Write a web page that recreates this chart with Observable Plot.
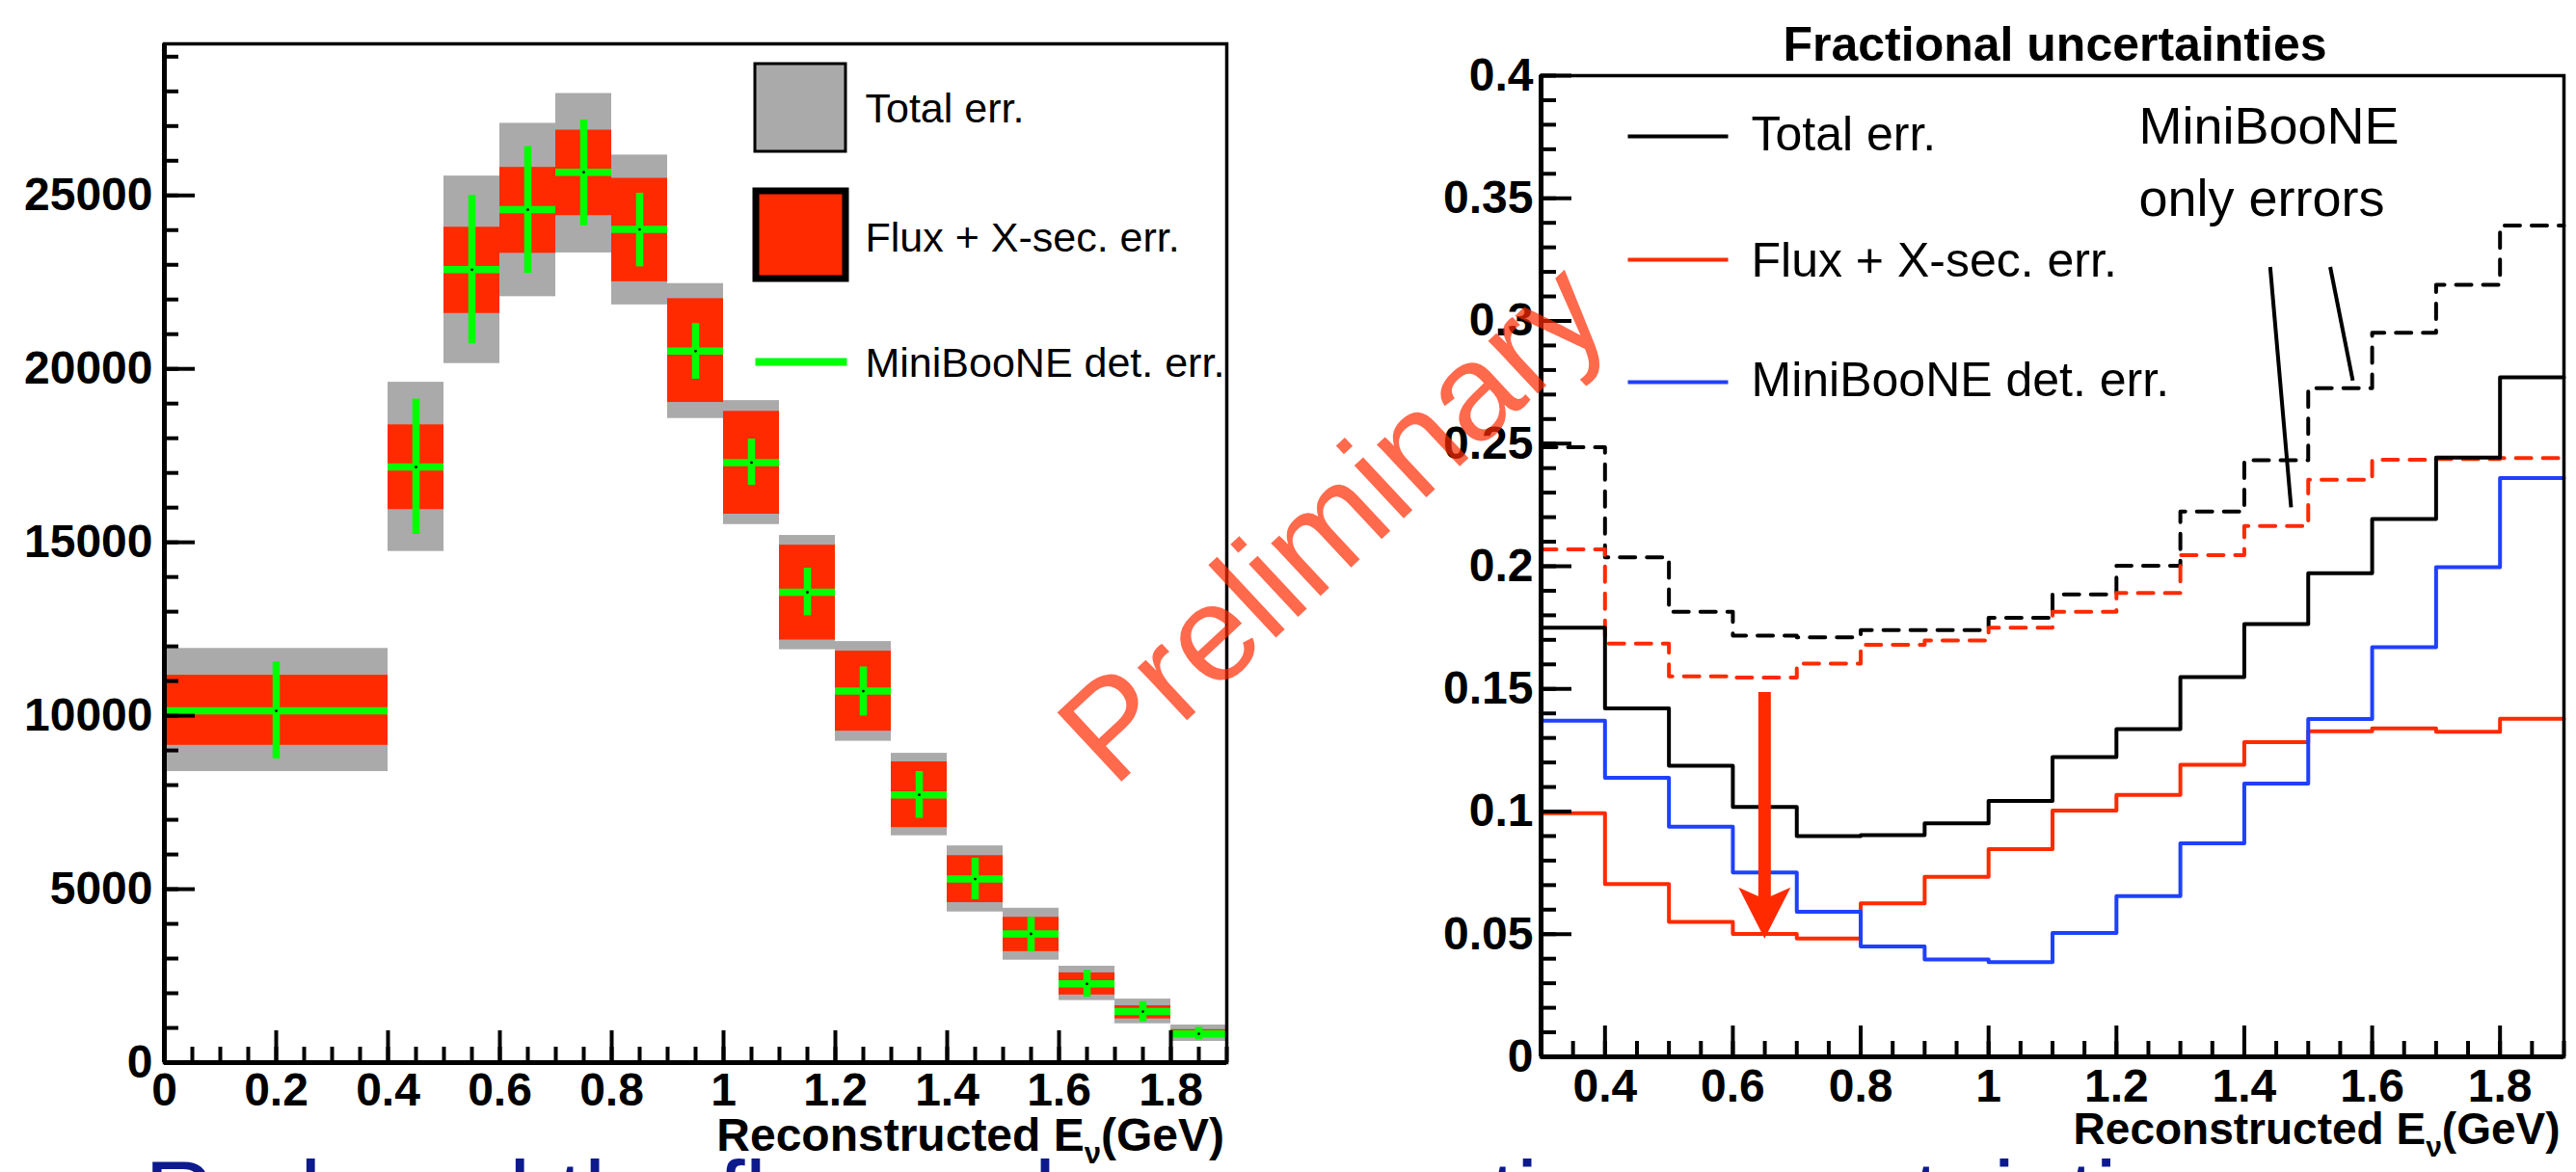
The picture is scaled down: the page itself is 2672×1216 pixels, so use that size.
<!DOCTYPE html>
<html><head><meta charset="utf-8">
<script src="https://cdn.jsdelivr.net/npm/d3@7"></script>
<script src="https://cdn.jsdelivr.net/npm/@observablehq/plot@0.6"></script>
<style>
html,body{margin:0;padding:0;background:#fff;width:2672px;height:1216px;overflow:hidden;}
#wrap{position:relative;width:2672px;height:1216px;}
#left{position:absolute;left:0;top:0;width:1336px;height:1216px;}
#right{position:absolute;left:1336px;top:0;width:1336px;height:1216px;}
#caption{position:absolute;left:150px;top:1190px;font-family:"Liberation Sans",Arial,Helvetica,sans-serif;font-size:100px;line-height:1;color:#0c1a8e;white-space:nowrap;}
</style></head><body>
<div id="wrap"><div id="left"></div><div id="right"></div><div id="caption">Reduced the flux and cross section uncertainties</div></div>
<script>
// ---------- LEFT PANEL DATA (events per bin) ----------
const binLo = [0, 0.4, 0.5, 0.6, 0.7, 0.8, 0.9, 1.0, 1.1, 1.2, 1.3, 1.4, 1.5, 1.6, 1.7, 1.8];
const binHi = [0.4, 0.5, 0.6, 0.7, 0.8, 0.9, 1.0, 1.1, 1.2, 1.3, 1.4, 1.5, 1.6, 1.7, 1.8, 1.9];
const central = [10140, 17170, 22860, 24590, 25670, 24020, 20510, 17300, 13560, 10710, 7720, 5290, 3710, 2270, 1470, 830];
const totalLo = [8390, 14736, 20153, 22081, 23342, 21844, 18569, 15511, 11903, 9264, 6539, 4342, 2953, 1789, 1119, 611];
const totalHi = [11940, 19614, 25558, 27078, 27939, 26164, 22458, 19086, 15197, 12139, 8917, 6247, 4450, 2778, 1831, 1083];
const fluxLo = [9147, 15942, 21597, 23331, 24417, 22511, 19033, 15811, 12183, 9556, 6775, 4611, 3200, 1950, 1261, 735];
const fluxHi = [11167, 18386, 24083, 25808, 26883, 25494, 22025, 18775, 14917, 11861, 8669, 5967, 4189, 2586, 1639, 950];
const detLo = [8760, 15230, 20722, 22758, 24128, 22942, 19700, 16642, 12883, 9994, 7044, 4697, 3190, 1886, 1175, 658];
const detHi = [11555, 19130, 25000, 26411, 27175, 25064, 21306, 17978, 14250, 11406, 8392, 5892, 4190, 2661, 1756, 1014];
const leftXTicks = [0, 0.2, 0.4, 0.6, 0.8, 1, 1.2, 1.4, 1.6, 1.8];
const leftYTicks = [0, 5000, 10000, 15000, 20000, 25000];
const leftLegend = ["Total err.", "Flux + X-sec. err.", "MiniBooNE det. err."];

// ---------- RIGHT PANEL DATA (fractional uncertainties) ----------
const edges = [0.3, 0.4, 0.5, 0.6, 0.7, 0.8, 0.9, 1.0, 1.1, 1.2, 1.3, 1.4, 1.5, 1.6, 1.7, 1.8, 1.9];
const totalErr = [0.175, 0.142, 0.1187, 0.1019, 0.090, 0.0904, 0.0952, 0.1043, 0.1222, 0.1336, 0.1548, 0.1764, 0.1972, 0.2193, 0.2443, 0.277];
const fluxErr = [0.0993, 0.0704, 0.055, 0.0501, 0.0482, 0.0626, 0.0734, 0.0847, 0.1004, 0.1068, 0.1191, 0.1283, 0.1327, 0.1339, 0.1325, 0.1378];
const detErr = [0.137, 0.1138, 0.0938, 0.0751, 0.0591, 0.045, 0.0397, 0.0386, 0.0505, 0.0655, 0.087, 0.1114, 0.1377, 0.167, 0.1996, 0.236];
const mbOnlyTotal = [0.2485, 0.2036, 0.1814, 0.1717, 0.171, 0.174, 0.174, 0.179, 0.1885, 0.2002, 0.2223, 0.2432, 0.2726, 0.2952, 0.3147, 0.3389];
const mbOnlyFlux = [0.2069, 0.1685, 0.1551, 0.1546, 0.1603, 0.168, 0.1697, 0.175, 0.1814, 0.1891, 0.2045, 0.2164, 0.2353, 0.2434, 0.2437, 0.2441];
const rightXTicks = [0.4, 0.6, 0.8, 1, 1.2, 1.4, 1.6, 1.8];
const rightYTicks = [0, 0.05, 0.1, 0.15, 0.2, 0.25, 0.3, 0.35, 0.4];
const rightLegend = ["Total err.", "Flux + X-sec. err.", "MiniBooNE det. err."];
const pointerX1 = [1.4405, 1.5344], pointerY1 = [0.322, 0.322];
const pointerX2 = [1.4732, 1.5697], pointerY2 = [0.224, 0.2757];
const arrowX = [0.6496], arrowTop = [0.1485], arrowTip = [0.0482];

// ---------- STYLE ----------
const FONT = "'Liberation Sans', Arial, Helvetica, sans-serif";
const GRAY = "#aaaaaa", RED = "#ff2a00", GREEN = "#00ff00", BLUE = "#1f40ff";
const fmt = d => String(+(+d).toFixed(3));
const boxSym = (w, h) => ({draw(ctx) { ctx.rect(-w / 2, -h / 2, w, h); }});
const hline = (w) => ({draw(ctx) { ctx.moveTo(-w / 2, 0); ctx.lineTo(w / 2, 0); }});
const arrowHead = {draw(ctx) { ctx.moveTo(0, 0); ctx.lineTo(-27, -53); ctx.lineTo(0, -41); ctx.lineTo(27, -53); ctx.closePath(); }};

function subscriptNu(svg, sub) {
  d3.select(svg).selectAll("text").filter(function () { return this.textContent === "Reconstructed E_ν(GeV)"; })
    .each(function () {
      const t = d3.select(this);
      t.text(null);
      t.append("tspan").text("Reconstructed E");
      t.append("tspan").attr("font-size", sub + "px").attr("dy", "13px").text("ν");
      t.append("tspan").attr("dy", "-13px").text("(GeV)");
    });
}

// ---------- LEFT PLOT ----------
const leftData = binLo.map((lo, i) => ({
  lo, hi: binHi[i], mid: (lo + binHi[i]) / 2, c: central[i],
  tLo: totalLo[i], tHi: totalHi[i], fLo: fluxLo[i], fHi: fluxHi[i], dLo: detLo[i], dHi: detHi[i]
}));
const L = {w: 1336, h: 1216, ml: 170, mr: 64, mt: 45, mb: 114};
const LiW = L.w - L.ml - L.mr, LiH = L.h - L.mt - L.mb;
const leftMinorX = d3.range(0, 1.9001, 0.05);
const leftMinorY = d3.range(0, 29001, 1000);

const left = Plot.plot({
  width: L.w, height: L.h, marginLeft: L.ml, marginRight: L.mr, marginTop: L.mt, marginBottom: L.mb,
  style: {fontFamily: FONT, background: "transparent", overflow: "visible", maxWidth: "none"},
  x: {domain: [0, 1.9]},
  y: {domain: [0, 29370]},
  marks: [
    Plot.rect(leftData, {x1: "lo", x2: "hi", y1: "tLo", y2: "tHi", fill: GRAY}),
    Plot.rect(leftData, {x1: "lo", x2: "hi", y1: "fLo", y2: "fHi", fill: RED}),
    Plot.ruleY(leftData, {y: "c", x1: "lo", x2: "hi", stroke: GREEN, strokeWidth: 7.5}),
    Plot.ruleX(leftData, {x: "mid", y1: "dLo", y2: "dHi", stroke: GREEN, strokeWidth: 7.5}),
    Plot.dot(leftData, {x: "mid", y: "c", r: 1.4, fill: "black"}),
    // ticks (inward)
    Plot.ruleX(leftMinorX, {x: d => d, insetTop: LiH - 16, strokeWidth: 4}),
    Plot.ruleX(leftXTicks, {x: d => d, insetTop: LiH - 33, strokeWidth: 4}),
    Plot.ruleY(leftMinorY, {y: d => d, insetRight: LiW - 15, strokeWidth: 4}),
    Plot.ruleY(leftYTicks, {y: d => d, insetRight: LiW - 32, strokeWidth: 4}),
    Plot.axisX({ticks: leftXTicks, tickSize: 0, tickPadding: 10, fontSize: 48, fontWeight: "bold", tickFormat: fmt, label: null}),
    Plot.axisY({ticks: leftYTicks, tickSize: 0, tickPadding: 12, fontSize: 48, fontWeight: "bold", tickFormat: d3.format("d"), label: null}),
    Plot.frame({strokeWidth: 3.5}),
    Plot.ruleX([0], {strokeWidth: 5}),
    Plot.ruleY([0], {strokeWidth: 5}),
    // legend
    Plot.dot([0], {frameAnchor: "top-left", dx: 659.5, dy: 66, r: 10, symbol: boxSym(94, 91), fill: GRAY, stroke: "black", strokeWidth: 3}),
    Plot.dot([0], {frameAnchor: "top-left", dx: 660, dy: 198, r: 10, symbol: boxSym(93, 91), fill: RED, stroke: "black", strokeWidth: 7}),
    Plot.dot([0], {frameAnchor: "top-left", dx: 660.5, dy: 330, r: 10, symbol: hline(95), fill: "none", stroke: GREEN, strokeWidth: 8}),
    Plot.text([leftLegend[0]], {frameAnchor: "top-left", dx: 727, dy: 81, textAnchor: "start", lineAnchor: "bottom", fontSize: 43}),
    Plot.text([leftLegend[1]], {frameAnchor: "top-left", dx: 727, dy: 215, textAnchor: "start", lineAnchor: "bottom", fontSize: 43}),
    Plot.text([leftLegend[2]], {frameAnchor: "top-left", dx: 727, dy: 345.5, textAnchor: "start", lineAnchor: "bottom", fontSize: 43}),
    Plot.text(["Reconstructed E_ν(GeV)"], {frameAnchor: "bottom-right", dx: -2.5, dy: 91.5, textAnchor: "end", lineAnchor: "bottom", fontSize: 48, fontWeight: "bold"})
  ]
});
subscriptNu(left, 31);
document.getElementById("left").appendChild(left);

// ---------- RIGHT PLOT ----------
const steps = vals => edges.map((e, i) => ({x: e, y: vals[Math.min(i, vals.length - 1)]}));
const R = {w: 1336, h: 1216, ml: 262, mr: 13, mt: 78, mb: 120};
const RiW = R.w - R.ml - R.mr, RiH = R.h - R.mt - R.mb;
const rightMinorX = d3.range(0.3, 1.9001, 0.05);
const rightMinorY = d3.range(0, 0.4001, 0.01);
const pointers = pointerX1.map((x1, i) => ({x1, y1: pointerY1[i], x2: pointerX2[i], y2: pointerY2[i]}));
const arrow = arrowX.map((x, i) => ({x, top: arrowTop[i], tip: arrowTip[i]}));
const dash = "16,12";

const right = Plot.plot({
  width: R.w, height: R.h, marginLeft: R.ml, marginRight: R.mr, marginTop: R.mt, marginBottom: R.mb,
  style: {fontFamily: FONT, background: "transparent", overflow: "visible", maxWidth: "none"},
  x: {domain: [0.3, 1.9]},
  y: {domain: [0, 0.4]},
  marks: [
    Plot.line(steps(mbOnlyTotal), {x: "x", y: "y", curve: "step-after", stroke: "black", strokeWidth: 4, strokeDasharray: dash}),
    Plot.line(steps(mbOnlyFlux), {x: "x", y: "y", curve: "step-after", stroke: RED, strokeWidth: 4, strokeDasharray: dash}),
    Plot.line(steps(totalErr), {x: "x", y: "y", curve: "step-after", stroke: "black", strokeWidth: 4}),
    Plot.line(steps(fluxErr), {x: "x", y: "y", curve: "step-after", stroke: RED, strokeWidth: 4}),
    Plot.line(steps(detErr), {x: "x", y: "y", curve: "step-after", stroke: BLUE, strokeWidth: 4}),
    Plot.link(pointers, {x1: "x1", y1: "y1", x2: "x2", y2: "y2", stroke: "black", strokeWidth: 4}),
    Plot.ruleX(arrow, {x: "x", y1: "top", y2: "tip", insetBottom: 40, stroke: RED, strokeWidth: 13}),
    Plot.dot(arrow, {x: "x", y: "tip", r: 10, symbol: arrowHead, fill: RED, stroke: "none"}),
    // ticks
    Plot.ruleX(rightMinorX, {x: d => d, insetTop: RiH - 16, strokeWidth: 4}),
    Plot.ruleX(rightXTicks, {x: d => d, insetTop: RiH - 32, strokeWidth: 4}),
    Plot.ruleY(rightMinorY, {y: d => d, insetRight: RiW - 16, strokeWidth: 4}),
    Plot.ruleY(rightYTicks, {y: d => d, insetRight: RiW - 32, strokeWidth: 4}),
    Plot.axisX({ticks: rightXTicks, tickSize: 0, tickPadding: 12, fontSize: 48, fontWeight: "bold", tickFormat: fmt, label: null}),
    Plot.axisY({ticks: rightYTicks, tickSize: 0, tickPadding: 8, fontSize: 48, fontWeight: "bold", tickFormat: fmt, label: null}),
    Plot.frame({strokeWidth: 3.5}),
    Plot.ruleX([0.3], {strokeWidth: 5}),
    Plot.ruleY([0], {strokeWidth: 5}),
    // legend
    Plot.dot([0], {frameAnchor: "top-left", dx: 142, dy: 63, r: 10, symbol: hline(104), fill: "none", stroke: "black", strokeWidth: 4}),
    Plot.dot([0], {frameAnchor: "top-left", dx: 142, dy: 191, r: 10, symbol: hline(104), fill: "none", stroke: RED, strokeWidth: 4}),
    Plot.dot([0], {frameAnchor: "top-left", dx: 142, dy: 318, r: 10, symbol: hline(104), fill: "none", stroke: BLUE, strokeWidth: 4}),
    Plot.text([rightLegend[0]], {frameAnchor: "top-left", dx: 218, dy: 77, textAnchor: "start", lineAnchor: "bottom", fontSize: 50}),
    Plot.text([rightLegend[1]], {frameAnchor: "top-left", dx: 218, dy: 208, textAnchor: "start", lineAnchor: "bottom", fontSize: 50}),
    Plot.text([rightLegend[2]], {frameAnchor: "top-left", dx: 218, dy: 332, textAnchor: "start", lineAnchor: "bottom", fontSize: 50}),
    Plot.text(["MiniBooNE"], {frameAnchor: "top-left", dx: 620, dy: 70, textAnchor: "start", lineAnchor: "bottom", fontSize: 54}),
    Plot.text(["only errors"], {frameAnchor: "top-left", dx: 620, dy: 145.5, textAnchor: "start", lineAnchor: "bottom", fontSize: 54}),
    Plot.text(["Fractional uncertainties"], {frameAnchor: "top-left", dx: 533, dy: -16, textAnchor: "middle", lineAnchor: "bottom", fontSize: 50, fontWeight: "bold"}),
    Plot.text(["Reconstructed E_ν(GeV)"], {frameAnchor: "bottom-right", dx: -4, dy: 90, textAnchor: "end", lineAnchor: "bottom", fontSize: 46, fontWeight: "bold"}),
    Plot.text(["Preliminary"], {frameAnchor: "top-left", dx: -184, dy: 498, textAnchor: "middle", lineAnchor: "bottom", rotate: -43, fontSize: 142, fill: RED, fillOpacity: 0.7})
  ]
});
subscriptNu(right, 30);
document.getElementById("right").appendChild(right);
</script>
</body></html>
